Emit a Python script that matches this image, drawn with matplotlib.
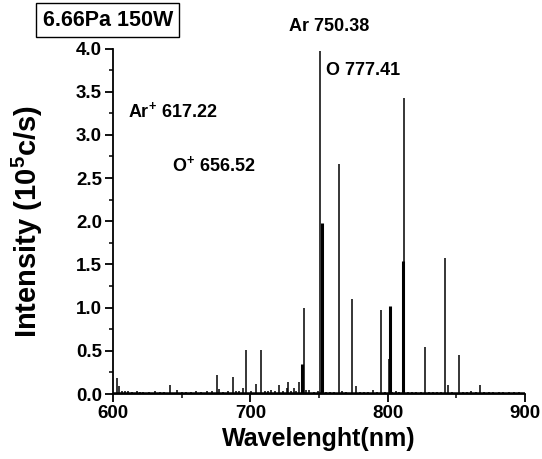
import matplotlib
matplotlib.use("Agg")
import matplotlib.pyplot as plt
from matplotlib.ticker import MultipleLocator

plt.rcParams['font.family'] = ['Liberation Sans', 'DejaVu Sans']
plt.rcParams['font.weight'] = 'bold'
plt.rcParams['mathtext.fontset'] = 'custom'
plt.rcParams['mathtext.rm'] = 'Liberation Sans:bold'
plt.rcParams['mathtext.bf'] = 'Liberation Sans:bold'

# emission lines: wavelength (nm), intensity (10^5 c/s)
wavelength = [603.1, 604.6, 606.3, 608.5, 611.0, 614.0, 617.3, 620.0, 622.0, 626.0,
              630.6, 634.0, 637.0, 641.5, 646.4, 650.0, 653.0, 657.0, 660.4, 664.0,
              668.2, 672.0, 675.5, 677.0, 680.0, 684.0, 687.6, 689.3, 692.0, 694.5,
              697.2, 700.5, 704.0, 707.8, 710.5, 712.7, 714.9, 718.0, 720.9, 723.5,
              726.5, 727.5, 729.5, 731.6, 733.5, 735.5, 737.4, 738.9, 740.5, 743.0,
              746.0, 749.3, 751.0, 752.0, 755.0, 758.0, 761.0, 764.4, 767.0, 770.0,
              773.8, 777.0, 780.0, 783.0, 786.0, 789.1, 792.0, 795.0, 798.0, 800.8,
              801.7, 803.5, 805.9, 808.5, 810.9, 812.0, 815.0, 818.0, 821.0, 824.0,
              827.5, 830.0, 833.0, 836.0, 839.0, 841.8, 844.0, 847.0, 852.0, 855.0,
              858.0, 860.5, 864.0, 867.3, 870.5, 874.0, 877.0, 881.0, 884.0, 888.0,
              892.0, 896.0]
intensity = [0.18, 0.09, 0.04, 0.03, 0.03, 0.02, 0.03, 0.02, 0.02, 0.02,
             0.03, 0.02, 0.02, 0.10, 0.05, 0.02, 0.02, 0.02, 0.04, 0.02,
             0.03, 0.03, 0.22, 0.06, 0.02, 0.03, 0.20, 0.03, 0.03, 0.07,
             0.51, 0.03, 0.12, 0.51, 0.03, 0.03, 0.05, 0.03, 0.11, 0.03,
             0.07, 0.14, 0.03, 0.07, 0.03, 0.14, 0.35, 1.00, 0.05, 0.05,
             0.02, 0.04, 3.97, 1.98, 0.02, 0.02, 0.02, 2.66, 0.03, 0.02,
             1.10, 0.09, 0.02, 0.02, 0.02, 0.05, 0.02, 0.97, 0.02, 0.41,
             1.02, 0.02, 0.04, 0.02, 1.54, 3.43, 0.02, 0.02, 0.02, 0.02,
             0.54, 0.02, 0.02, 0.02, 0.02, 1.57, 0.10, 0.02, 0.45, 0.02,
             0.02, 0.03, 0.02, 0.11, 0.02, 0.02, 0.02, 0.02, 0.02, 0.02,
             0.02, 0.02]
baseline_level = 0.01
broad_lines = [752.0, 810.9, 737.4, 801.7]

labels = [r'Ar$^{\mathbf{+}}$ 617.22', r'O$^{\mathbf{+}}$ 656.52', 'Ar 750.38', 'O 777.41']
label_x = [611.0, 643.0, 728.2, 755.1]
label_y = [3.28, 2.65, 4.26, 3.75]

fig = plt.figure(figsize=(5.42, 4.59), dpi=100)
ax = fig.add_axes([0.2085, 0.1416, 0.7601, 0.7527])

widths = [2.2 if w in broad_lines else 1.1 for w in wavelength]
ax.vlines(wavelength, 0, intensity, colors='black', linewidths=widths)
ax.axhline(baseline_level, color='black', lw=1.8)

for t, x, y in zip(labels, label_x, label_y):
    ax.text(x, y, t, fontsize=13, fontweight='bold', va='center', ha='left',
            clip_on=False)

ax.set_xlim(600, 900)
ax.set_ylim(0, 4.0)
ax.xaxis.set_major_locator(MultipleLocator(100))
ax.xaxis.set_minor_locator(MultipleLocator(50))
ax.yaxis.set_major_locator(MultipleLocator(0.5))
ax.yaxis.set_minor_locator(MultipleLocator(0.25))
ax.yaxis.set_major_formatter(plt.FormatStrFormatter('%.1f'))

for s in ['top', 'right']:
    ax.spines[s].set_visible(False)
for s in ['left', 'bottom']:
    ax.spines[s].set_linewidth(1.3)

ax.tick_params(which='major', direction='out', length=6, width=1.3,
               labelsize=13.5, pad=2)
ax.tick_params(which='minor', direction='out', length=3, width=1.1)
for lab in ax.get_xticklabels() + ax.get_yticklabels():
    lab.set_fontweight('bold')

ax.set_xlabel('Wavelenght(nm)', fontsize=18, fontweight='bold')
ax.set_ylabel(r'Intensity (10$^{\mathbf{5}}$c/s)', fontsize=21, fontweight='bold')
ax.xaxis.set_label_coords(0.5, -0.095)
ax.yaxis.set_label_coords(-0.165, 0.5)

fig.text(0.199, 0.956, '6.66Pa 150W', fontsize=15.5, fontweight='bold',
         ha='center', va='center',
         bbox=dict(boxstyle='square,pad=0.3', facecolor='white',
                   edgecolor='black', lw=1.0))

fig.savefig('out.png', dpi=100)
